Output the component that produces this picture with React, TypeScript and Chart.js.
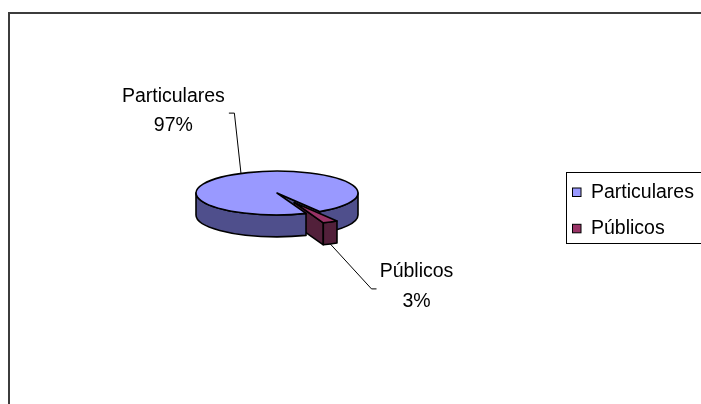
import React, { useEffect, useRef } from "react";
import { Chart, registerables } from "chart.js";

Chart.register(...registerables);

// ---- data ----
const categories = ["Particulares", "Públicos"];
const values = [97, 3];
const percentLabels = ["97%", "3%"];

// ---- styles ----
const TOP_COLORS = ["#9999FF", "#993366"];
const SIDE_COLORS = ["#4F4F8C", "#52203A"];
const EXPLODE = [0, 0.48];
const TILT = 0.27;
const DEPTH = 22;
const FONT = '19.5px "Liberation Sans", Arial, sans-serif';
const LABEL_LAYOUT = [
  { elbow: [-6.6, -60.3], tail: -5.5, text: [-67.6, -76.3], lineGap: 29 },
  { elbow: [41.2, 44.9], tail: 5, text: [86.2, 27.9], lineGap: 30 },
];

type Slice = { i: number; cx: number; cy: number; s: number; e: number; m: number; rx: number; ry: number };

function getSlices(chart: any): Slice[] {
  const meta = chart.getDatasetMeta(0);
  return meta.data.map((el: any, i: number) => {
    const s = el.startAngle;
    const e = el.endAngle;
    const r = el.outerRadius;
    const m = (s + e) / 2;
    const o = EXPLODE[i] * r;
    return {
      i,
      cx: el.x + o * Math.cos(m),
      cy: el.y + o * Math.sin(m) * TILT,
      s,
      e,
      m,
      rx: r,
      ry: r * TILT,
    };
  });
}

function pt(sl: Slice, a: number, dy = 0): [number, number] {
  return [sl.cx + sl.rx * Math.cos(a), sl.cy + sl.ry * Math.sin(a) + dy];
}

const pie3d = {
  id: "pie3d",
  beforeDraw(chart: any) {
    const ctx = chart.ctx;
    ctx.save();
    ctx.fillStyle = "#3c3c3c";
    ctx.fillRect(8, 12, 2, chart.height);
    ctx.fillRect(8, 12, chart.width, 2);
    ctx.restore();
  },
  beforeDatasetsDraw(chart: any) {
    const ctx = chart.ctx;
    const slices = getSlices(chart);
    ctx.save();
    ctx.lineWidth = 1.6;
    ctx.strokeStyle = "#000";
    ctx.lineJoin = "round";

    // collect wall pieces with a depth key (screen y, larger = nearer)
    const pieces: { key: number; draw: () => void }[] = [];
    const addRadial = (sl: Slice, a: number) => {
      const p = pt(sl, a);
      pieces.push({
        key: (sl.cy + p[1]) / 2,
        draw: () => {
          ctx.beginPath();
          ctx.moveTo(sl.cx, sl.cy);
          ctx.lineTo(p[0], p[1]);
          ctx.lineTo(p[0], p[1] + DEPTH);
          ctx.lineTo(sl.cx, sl.cy + DEPTH);
          ctx.closePath();
          ctx.fillStyle = SIDE_COLORS[sl.i];
          ctx.fill();
          ctx.stroke();
        },
      });
    };
    for (const sl of slices) {
      if (Math.cos(sl.s) < 0) addRadial(sl, sl.s);
      if (Math.cos(sl.e) > 0) addRadial(sl, sl.e);
      for (let k = -1; k <= 2; k++) {
        const base = 2 * Math.PI * k;
        const a = Math.max(sl.s, base);
        const b = Math.min(sl.e, base + Math.PI);
        if (b <= a) continue;
        const front = Math.min(Math.max(base + Math.PI / 2, a), b);
        pieces.push({
          key: pt(sl, front)[1],
          draw: () => {
            const pb = pt(sl, b, DEPTH);
            ctx.beginPath();
            ctx.ellipse(sl.cx, sl.cy, sl.rx, sl.ry, 0, a, b, false);
            ctx.lineTo(pb[0], pb[1]);
            ctx.ellipse(sl.cx, sl.cy + DEPTH, sl.rx, sl.ry, 0, b, a, true);
            ctx.closePath();
            ctx.fillStyle = SIDE_COLORS[sl.i];
            ctx.fill();
            ctx.stroke();
          },
        });
      }
    }
    pieces.sort((p, q) => p.key - q.key).forEach((p) => p.draw());

    // top faces
    for (const sl of slices) {
      ctx.beginPath();
      ctx.moveTo(sl.cx, sl.cy);
      ctx.ellipse(sl.cx, sl.cy, sl.rx, sl.ry, 0, sl.s, sl.e, false);
      ctx.closePath();
      ctx.fillStyle = TOP_COLORS[sl.i];
      ctx.fill();
      ctx.stroke();
    }
    ctx.restore();
    return false;
  },
  afterDraw(chart: any) {
    const ctx = chart.ctx;
    const slices = getSlices(chart);
    ctx.save();
    ctx.font = FONT;
    ctx.fillStyle = "#000";
    ctx.strokeStyle = "#000";
    ctx.lineWidth = 1;
    ctx.textAlign = "center";
    ctx.textBaseline = "middle";
    for (const sl of slices) {
      const L = LABEL_LAYOUT[sl.i];
      const anc = pt(sl, sl.m, Math.sin(sl.m) > 0 ? DEPTH : 0);
      const ex = anc[0] + L.elbow[0];
      const ey = anc[1] + L.elbow[1];
      ctx.beginPath();
      ctx.moveTo(anc[0], anc[1]);
      ctx.lineTo(ex, ey);
      ctx.lineTo(ex + L.tail, ey);
      ctx.stroke();
      const tx = anc[0] + L.text[0];
      const ty = anc[1] + L.text[1];
      ctx.fillText(categories[sl.i], tx, ty);
      ctx.fillText(percentLabels[sl.i], tx, ty + L.lineGap);
    }
    ctx.strokeStyle = "#000";
    ctx.lineWidth = 1;
    ctx.strokeRect(566.5, 172.5, 160, 71);
    ctx.textAlign = "left";
    const rows = [192.5, 228.8];
    categories.forEach((c, i) => {
      ctx.fillStyle = TOP_COLORS[i];
      ctx.fillRect(572.5, rows[i] - 4.5, 8.5, 8.5);
      ctx.strokeRect(572.5, rows[i] - 4.5, 8.5, 8.5);
      ctx.fillStyle = "#000";
      ctx.fillText(c, 591, rows[i]);
    });
    ctx.restore();
  },
};

export default function App() {
  const ref = useRef<HTMLCanvasElement>(null);
  useEffect(() => {
    const chart = new Chart(ref.current as HTMLCanvasElement, {
      type: "pie",
      data: {
        labels: categories,
        datasets: [
          {
            data: values,
            backgroundColor: TOP_COLORS,
            borderWidth: 0,
            hoverOffset: 0,
            offset: 0,
          } as any,
        ],
      },
      options: {
        responsive: false,
        animation: false,
        events: [],
        rotation: 159,
        layout: { padding: { left: 196, right: 343, top: 112, bottom: 130 } },
        plugins: { legend: { display: false }, tooltip: { enabled: false } },
      } as any,
      plugins: [pie3d as any],
    });
    return () => chart.destroy();
  }, []);
  return (
    <div style={{ position: "fixed", left: 0, top: 0, width: 701, height: 404, background: "#fff", overflow: "hidden" }}>
      <canvas ref={ref} width={701} height={404} style={{ display: "block" }} />
    </div>
  );
}
